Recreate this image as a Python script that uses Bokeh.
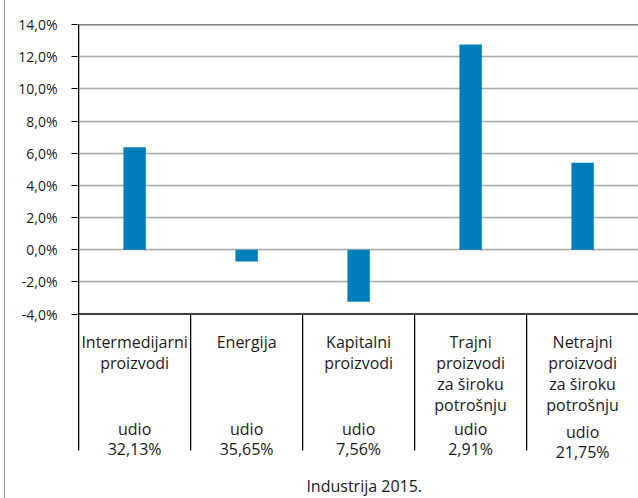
from bokeh.plotting import figure
from bokeh.models import Range1d, FixedTicker, Span, CustomJSTickFormatter, ColumnDataSource, Div
from bokeh.layouts import row
from bokeh.core.properties import value
from bokeh.embed import file_html
from bokeh.resources import INLINE

# ---- data ----
category_lines = [
    ["Intermedijarni", "proizvodi"],
    ["Energija"],
    ["Kapitalni", "proizvodi"],
    ["Trajni", "proizvodi", "za široku", "potrošnju"],
    ["Netrajni", "proizvodi", "za široku", "potrošnju"],
]
values = [6.37, -0.74, -3.24, 12.76, 5.40]
share_word = "udio"
shares = ["32,13%", "35,65%", "7,56%", "2,91%", "21,75%"]
y_ticks = [-4, -2, 0, 2, 4, 6, 8, 10, 12, 14]
grid_ticks = [-2, 0, 2, 4, 6, 8, 10, 12]
chart_title = "Industrija 2015."

# ---- layout constants ----
EDGE_W = 5                 # strip carrying the thin gray page border
W, H = 638 - EDGE_W, 498
Y_MIN, Y_MAX = -4, 14
PLOT_PX = 289.5            # pixel height between -4 and 14
PPU = PLOT_PX / (Y_MAX - Y_MIN)
TOP_BORDER = 24
LEFT_BORDER = 77 - EDGE_W
COL_PX = 112               # pixel width of one category column
BELOW_PX = H - TOP_BORDER - PLOT_PX   # frame extends below -4 line to canvas bottom
X_START = -0.01
X_END = X_START + (W - LEFT_BORDER) / COL_PX


def below(px):
    """data y located px pixels below the -4 line"""
    return Y_MIN - px / PPU


FONT = "Open Sans"
BLUE = "#007dbb"
n = len(values)
centers = [i + 0.5 for i in range(n)]

p = figure(width=W, height=H, output_backend="svg", toolbar_location=None,
           x_range=Range1d(X_START, X_END), y_range=Range1d(below(BELOW_PX), Y_MAX),
           min_border_left=LEFT_BORDER, min_border_right=0, min_border_top=TOP_BORDER,
           min_border_bottom=0, x_axis_location=None, margin=0)
p.outline_line_color = None
p.background_fill_color = "white"
p.border_fill_color = "white"
p.xgrid.visible = False

# y axis
ax = p.yaxis[0]
ax.ticker = FixedTicker(ticks=y_ticks)
ax.formatter = CustomJSTickFormatter(code="return tick.toFixed(1).replace('.', ',') + '%';")
ax.axis_line_color = None
ax.major_tick_out = 6
ax.major_tick_in = 0
ax.minor_tick_line_color = None
ax.major_tick_line_color = "black"
ax.major_label_text_font = FONT
ax.major_label_text_font_size = "14px"
ax.major_label_text_color = "#1a1a1a"
ax.major_label_standoff = 14

p.ygrid.ticker = FixedTicker(ticks=grid_ticks)
p.ygrid.grid_line_color = "#a8a8a8"
p.ygrid.grid_line_width = 1.4

# frame lines top (14%) and bottom (-4%)
p.add_layout(Span(location=Y_MAX, dimension="width", line_color="black", line_width=1.5))
p.add_layout(Span(location=Y_MIN, dimension="width", line_color="black", line_width=1.5))

# bars
p.vbar(x=centers, top=values, bottom=0, width=0.2, fill_color=BLUE, line_color=None)

# vertical lines: axis line and table separators
table_bottom = below(136.5)
p.segment(x0=[0], y0=[Y_MAX], x1=[0], y1=[table_bottom], line_color="black", line_width=1.3)
seps = list(range(1, n))
p.segment(x0=seps, y0=[Y_MIN] * len(seps), x1=seps, y1=[table_bottom] * len(seps),
          line_color="black", line_width=1.3)

# category texts
row_step = 21
tx, ty, tt = [], [], []
for i, lines in enumerate(category_lines):
    for j, line in enumerate(lines):
        tx.append(centers[i])
        ty.append(below(27.5 + j * row_step))
        tt.append(line)
share_shift = [0, 0, 0, 0, 3]
for i in range(n):
    tx.append(centers[i]); ty.append(below(114.5 + share_shift[i])); tt.append(share_word)
    tx.append(centers[i]); ty.append(below(134.5 + share_shift[i])); tt.append(shares[i])

src = ColumnDataSource(dict(x=tx, y=ty, text=tt))
p.text(x="x", y="y", text="text", source=src, text_align="center",
       text_baseline="alphabetic", text_font=value(FONT), text_font_size="16px",
       text_color="#1a1a1a")

# chart title (bottom)
p.text(x=[2.55], y=[below(172)], text=[chart_title], text_align="center",
       text_baseline="alphabetic", text_font=value(FONT), text_font_size="16px",
       text_color="#1a1a1a")

edge = Div(text="", width=EDGE_W, height=H, margin=0,
           styles={"border-right": "1px solid #9a9a9a", "box-sizing": "border-box",
                   "height": f"{H}px", "width": f"{EDGE_W}px", "padding": "0"})

layout = row(edge, p, spacing=0, margin=0)
open("out.html", "w").write(file_html(layout, INLINE))
